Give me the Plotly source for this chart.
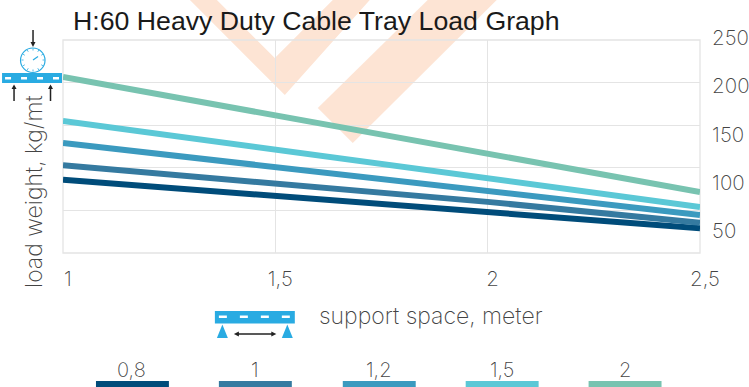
import math
import plotly.graph_objects as go

x_values = [1, 1.5, 2, 2.5]
x_tick_labels = ["1", "1,5", "2", "2,5"]
series_names = ["0,8", "1", "1,2", "1,5", "2"]
series_colors = ["#004c7a", "#357aa0", "#3b9abf", "#5bc8d6", "#78c3b0"]
s_08 = [86, 67, 49, 29]
s_10 = [103, 81, 60, 35.5]
s_12 = [129, 101, 73, 44.6]
s_15 = [155, 121, 88, 54]
s_20 = [206.6, 162, 117.4, 71.6]
series_values = [s_08, s_10, s_12, s_15, s_20]
y_tick_values = [50, 100, 150, 200, 250]

L, R, T, B = 63.0, 700.5, 40.0, 253.0
W, H = 749, 387
FONT = "Inter"
WEIGHT = 200
TXT = "#444444"

def px(v):
    return (v - L) / (R - L)

def py(v):
    return (B - v) / (B - T)

def path(pts, close=True):
    s = "M" + " L".join(f"{px(a):.5f},{py(b):.5f}" for a, b in pts)
    return s + (" Z" if close else "")

fig = go.Figure()
for name, color, vals in zip(series_names, series_colors, series_values):
    fig.add_trace(go.Scatter(x=x_values, y=vals, mode="lines", name=name,
                             line=dict(color=color, width=6), showlegend=False,
                             hoverinfo="skip", cliponaxis=False))
# helper trace that makes the right hand axis render
fig.add_trace(go.Scatter(x=[1], y=[50], yaxis="y2", mode="markers", opacity=0,
                         marker=dict(size=1), showlegend=False, hoverinfo="skip"))

shapes = []
def poly(pts, fill, layer="above"):
    shapes.append(dict(type="path", xref="paper", yref="paper", path=path(pts),
                       fillcolor=fill, line=dict(width=0), layer=layer))
def seg(a, b, c, d, color="#222222", width=1.5):
    shapes.append(dict(type="line", xref="paper", yref="paper", x0=px(a), y0=py(b),
                       x1=px(c), y1=py(d), line=dict(color=color, width=width), layer="above"))

# watermark
poly([(190, 0), (217, 0), (275, 58), (333, 0), (370, 0), (285, 95)], "#fde4d4", "below")
poly([(318, 108), (428, 0), (497, 0), (353, 143)], "#fde4d4", "below")

BLUE = "#29abe2"
# beam over the chart
poly([(2, 73), (62, 73), (62, 83), (2, 83)], BLUE)
for xx in (5, 21, 37, 53):
    poly([(xx, 77), (xx + 6, 77), (xx + 6, 79.5), (xx, 79.5)], "white")
# gauge
shapes.append(dict(type="circle", xref="paper", yref="paper", x0=px(20.5), x1=px(45),
                   y0=py(72.5), y1=py(48), line=dict(color=BLUE, width=1.2), fillcolor="white", layer="above"))
for k in range(12):
    ang = k * math.pi / 6
    seg(33 + 9.5 * math.cos(ang), 60 + 9.5 * math.sin(ang),
        33 + 11.5 * math.cos(ang), 60 + 11.5 * math.sin(ang), BLUE, 0.8)
seg(33, 60, 38, 56.5, BLUE, 1.2)
seg(33, 30, 33, 45)
poly([(30.5, 42), (35.5, 42), (33, 47)], "#222222")
for xx in (14, 50.5):
    seg(xx, 86, xx, 101)
    poly([(xx - 2.5, 89), (xx + 2.5, 89), (xx, 84.5)], "#222222")
# beam under the chart
poly([(215, 311), (295, 311), (295, 323.5), (215, 323.5)], BLUE)
for xx in (219, 240, 261, 282):
    poly([(xx, 315.5), (xx + 8, 315.5), (xx + 8, 318), (xx, 318)], "white")
poly([(217, 338), (228, 338), (222.5, 324.5)], BLUE)
poly([(282, 338), (293, 338), (287.5, 324.5)], BLUE)
seg(237, 334, 274, 334)
poly([(234, 334), (239, 331.5), (239, 336.5)], "#222222")
poly([(276.5, 334), (271.5, 331.5), (271.5, 336.5)], "#222222")

annotations = [
    dict(text="H:60 Heavy Duty Cable Tray Load Graph", xref="paper", yref="paper", x=px(71), y=py(21),
         xanchor="left", yanchor="middle", showarrow=False,
         font=dict(family="Liberation Sans", size=26.7, color="#1a1a1a")),
    dict(text="load weight, kg/mt", xref="paper", yref="paper", x=px(34), y=py(192), textangle=-90,
         xanchor="center", yanchor="middle", showarrow=False,
         font=dict(family=FONT, size=23, color=TXT, weight=WEIGHT)),
    dict(text="support space, meter", xref="paper", yref="paper", x=px(317), y=py(316),
         xanchor="left", yanchor="middle", showarrow=False,
         font=dict(family=FONT, size=23, color=TXT, weight=WEIGHT)),
]
# legend
lefts = [96, 219, 343, 466, 589]
for name, color, lx in zip(series_names, series_colors, lefts):
    poly([(lx, 381), (lx + 73, 381), (lx + 73, 387), (lx, 387)], color)
    annotations.append(dict(text=name, xref="paper", yref="paper", x=px(lx + 36), y=py(370),
                            xanchor="center", yanchor="middle", showarrow=False,
                            font=dict(family=FONT, size=20, color=TXT, weight=WEIGHT)))

fig.update_layout(
    width=W, height=H, margin=dict(l=L, r=W - R, t=T, b=H - B, autoexpand=False),
    paper_bgcolor="white", plot_bgcolor="rgba(0,0,0,0)", showlegend=False,
    shapes=shapes, annotations=annotations,
    xaxis=dict(range=[1, 2.5], tickvals=x_values, ticktext=x_tick_labels, ticks="", showline=False,
               gridcolor="#e4e4e4", gridwidth=1.3, zeroline=False, ticklabelshift=5, ticklabelstandoff=11,
               tickfont=dict(family=FONT, size=20.5, color=TXT, weight=WEIGHT)),
    yaxis=dict(range=[0, 250], dtick=50, showticklabels=False, ticks="", gridcolor="#e4e4e4",
               gridwidth=1.3, zeroline=False, showline=False),
    yaxis2=dict(overlaying="y", side="right", range=[29.3, 250.01], tickvals=y_tick_values,
                ticks="outside", ticklen=7, tickcolor="rgba(0,0,0,0)", showgrid=False, zeroline=False, showline=False,
                ticklabelshift=-2,
                tickfont=dict(family=FONT, size=20.5, color=TXT, weight=WEIGHT)),
)
# plot frame
fig.add_shape(type="rect", xref="paper", yref="paper", x0=0, y0=0, x1=1, y1=1,
              line=dict(color="#e4e4e4", width=1.3), layer="below")
fig.write_html("out.html", config={"displayModeBar": False},
               post_script="document.body.style.margin='0';document.documentElement.style.overflow='hidden';")
